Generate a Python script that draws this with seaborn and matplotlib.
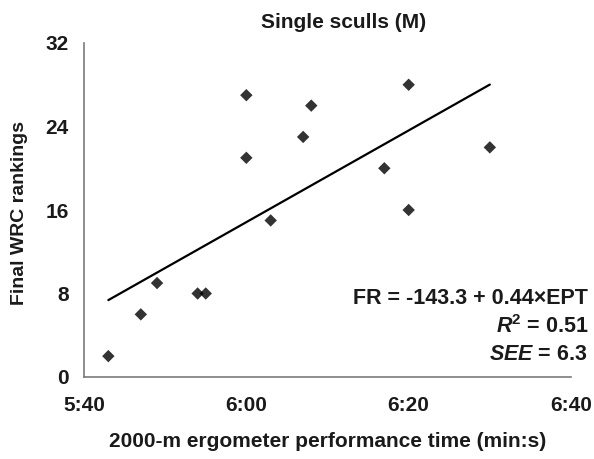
import matplotlib
matplotlib.use("Agg")
import matplotlib.pyplot as plt
import seaborn as sns
import numpy as np
import pandas as pd

# Data (time in seconds, final WRC ranking)
erg_time_s = [343, 347, 349, 354, 355, 360, 360, 363, 367, 368, 377, 380, 380, 390]
final_rank = [2, 6, 9, 8, 8, 27, 21, 15, 23, 26, 20, 28, 16, 22]
x_ticks = [340, 360, 380, 400]
x_tick_labels = ["5:40", "6:00", "6:20", "6:40"]
y_ticks = [0, 8, 16, 24, 32]
title = "Single sculls (M)"
eq_lines = ["FR = -143.3 + 0.44×EPT", r"$\mathbfit{R}^{\mathbf{2}}$ = 0.51", r"$\mathbfit{SEE}$ = 6.3"]

sns.set_style("white")
plt.rcParams["font.family"] = ["Liberation Sans", "DejaVu Sans"]
plt.rcParams["mathtext.fontset"] = "custom"
plt.rcParams["mathtext.it"] = "Liberation Sans:italic"
plt.rcParams["mathtext.bf"] = "Liberation Sans:bold"
plt.rcParams["mathtext.bfit"] = "Liberation Sans:bold:italic"
plt.rcParams["mathtext.rm"] = "Liberation Sans"

df = pd.DataFrame({"t": erg_time_s, "rank": final_rank})

fig = plt.figure(figsize=(5.94, 4.59), dpi=100)
ax = fig.add_axes([84/594, 1-377/459, (571-84)/594, (377-43)/459])

sns.regplot(data=df, x="t", y="rank", ax=ax, ci=None, marker="D",
            scatter_kws=dict(color="black", s=40, edgecolors="none"),
            line_kws=dict(color="black", lw=1.6))

ax.set_xlim(340, 400)
ax.set_ylim(0, 32)
ax.set_xticks(x_ticks)
ax.set_xticklabels(x_tick_labels)
ax.set_yticks(y_ticks)
for lab in ax.get_xticklabels() + ax.get_yticklabels():
    lab.set_fontweight("bold")
    lab.set_fontsize(15)
    lab.set_color("#1a1a1a")

sns.despine(ax=ax)
for s in ["left", "bottom"]:
    ax.spines[s].set_color("#7a7a7a")
    ax.spines[s].set_linewidth(1.2)
ax.tick_params(axis="both", which="major", direction="out", length=6, width=1.2,
               color="#7a7a7a", pad=5)
ax.tick_params(axis="x", pad=8)

ax.set_xlabel("2000-m ergometer performance time (min:s)", fontsize=15,
              fontweight="bold", labelpad=12, color="#1a1a1a")
ax.set_ylabel("Final WRC rankings", fontsize=14, fontweight="bold",
              color="#1a1a1a")
ax.yaxis.set_label_coords((28-84)/487, (377-213)/334)
fig.text(344/594, 1-22/459, title, ha="center", va="center", fontsize=15,
         fontweight="bold", color="#1a1a1a")

ys = [298, 327, 355]
for txt, yy in zip(eq_lines, ys):
    fig.text(588/594, 1-yy/459, txt, ha="right", va="center", fontsize=15.5,
             fontweight="bold", color="#1a1a1a")

fig.savefig("out.png", dpi=100)
